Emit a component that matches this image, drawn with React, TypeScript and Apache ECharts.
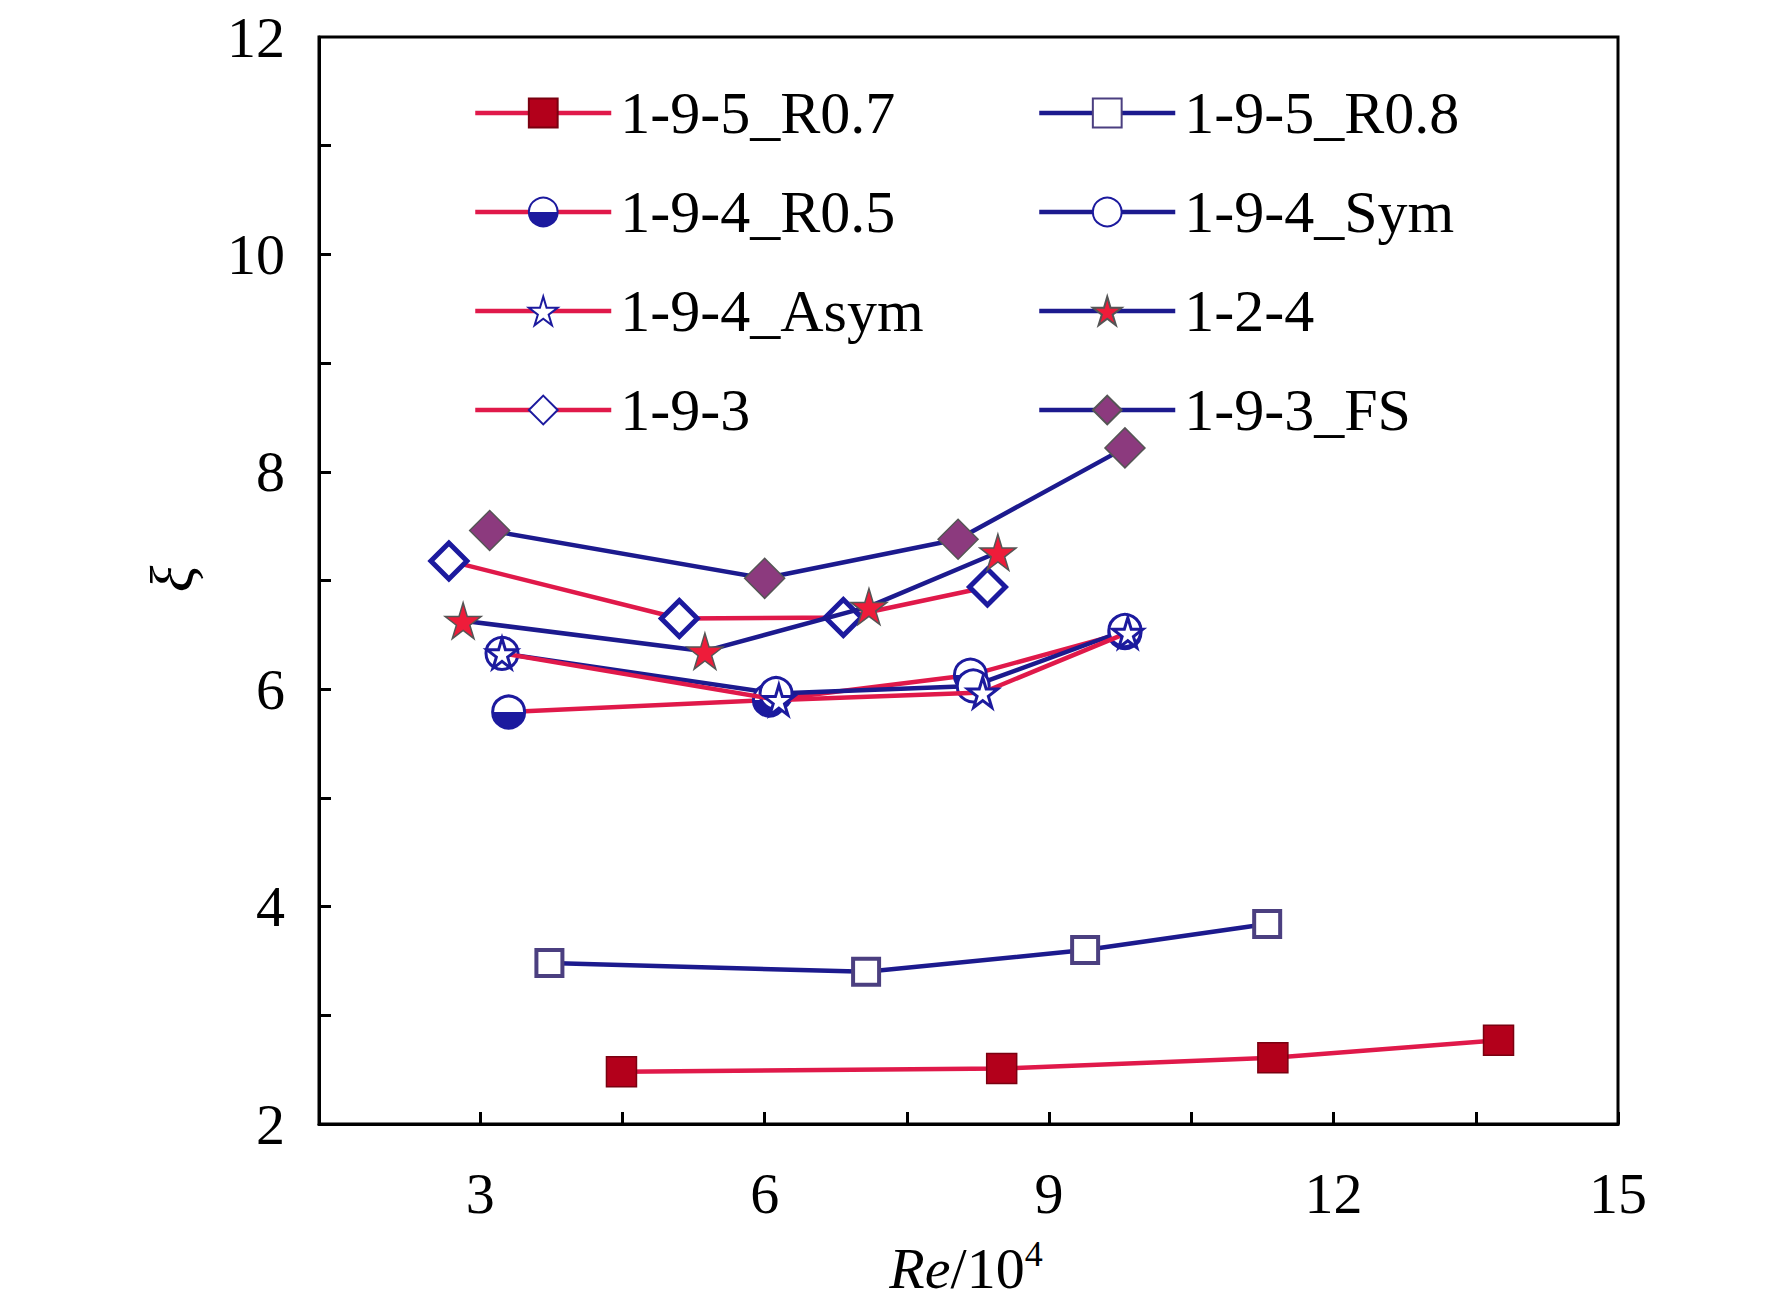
import React, { useEffect, useRef } from "react";
import * as echarts from "echarts";

const names = ["1-9-5_R0.7", "1-9-5_R0.8", "1-9-4_R0.5", "1-9-4_Sym", "1-9-4_Asym", "1-2-4", "1-9-3", "1-9-3_FS"];
const r07 = [[4.49, 2.48], [8.5, 2.51], [11.36, 2.61], [13.74, 2.77]];
const r08 = [[3.73, 3.48], [7.07, 3.4], [9.38, 3.6], [11.3, 3.84]];
const r05 = [[3.3, 5.79], [6.05, 5.9], [8.17, 6.13], [9.8, 6.52]];
const sym = [[3.23, 6.33], [6.12, 5.96], [8.2, 6.03], [9.8, 6.54]];
const asym = [[3.23, 6.33], [6.15, 5.9], [8.3, 5.97], [9.83, 6.52]];
const s124 = [[2.82, 6.63], [5.37, 6.35], [7.1, 6.76], [8.46, 7.26]];
const d193 = [[2.67, 7.18], [5.1, 6.65], [6.83, 6.66], [8.35, 6.94]];
const fs = [[3.1, 7.46], [6.0, 7.02], [8.04, 7.38], [9.8, 8.22]];
const xLabels = [3, 6, 9, 12, 15];
const xTicks = [3, 4.5, 6, 7.5, 9, 10.5, 12, 13.5, 15];
const yLabels = [2, 4, 6, 8, 10, 12];
const yTicks = [3, 4, 5, 6, 7, 8, 9, 10, 11];

const RED = "#e0194a";
const BLUE = "#1c1a8e";
const FONT = "Liberation Serif";

export default function App() {
  const ref = useRef<HTMLDivElement>(null);
  useEffect(() => {
    document.body.style.margin = "0";
    const chart = echarts.init(ref.current!, null, { renderer: "svg" });
    const halfFill = new echarts.graphic.LinearGradient(0, 0, 0, 1, [
      { offset: 0, color: "#ffffff" }, { offset: 0.5, color: "#ffffff" },
      { offset: 0.5, color: "#1c1a9e" }, { offset: 1, color: "#1c1a9e" },
    ]);
    const mk = (name: string, data: number[][], line: string, symbol: string, size: number, fill: any, border: string, bw: number, z = 2) => ({
      name, type: "line", data, symbol, symbolSize: size, z,
      lineStyle: { color: line, width: 4.5 },
      itemStyle: { color: fill, borderColor: border, borderWidth: bw },
    });
    const series = [
      mk(names[0], r07, RED, "rect", 30, "#b3001b", "#7a0010", 1.5),
      mk(names[1], r08, BLUE, "rect", 26, "#ffffff", "#4b3f80", 4),
      mk(names[2], r05, RED, "circle", 32, halfFill, "#1c1a9e", 3),
      mk(names[3], sym, BLUE, "circle", 32, "#ffffff", "#1c1a9e", 3),
      mk(names[4], asym, RED, "path://M50,0 L61,35 L98,35 L68,57 L79,91 L50,70 L21,91 L32,57 L2,35 L39,35 Z", 30, "#ffffff", "#1c1a9e", 3, 3),
      mk(names[5], s124, BLUE, "path://M50,0 L61,35 L98,35 L68,57 L79,91 L50,70 L21,91 L32,57 L2,35 L39,35 Z", 36, "#ee1c3a", "#555555", 1.5, 3),
      mk(names[6], d193, RED, "diamond", 36, "#ffffff", "#1c1a9e", 5),
      mk(names[7], fs, BLUE, "diamond", 40, "#8c3a7e", "#555555", 1.5),
    ];
    const legendCommon = {
      orient: "vertical", itemWidth: 136, itemHeight: 36, itemGap: 39,
      lineStyle: { width: 4.5 },
      textStyle: { fontFamily: FONT, fontSize: 60, color: "#000", padding: [0, 0, 0, 4] },
      top: 78,
    };
    chart.setOption({
      animation: false,
      backgroundColor: "#ffffff",
      grid: { left: 319, top: 37, width: 1299, height: 1087 },
      legend: [
        { ...legendCommon, left: 468, data: [names[0], names[2], names[4], names[6]] },
        { ...legendCommon, left: 1032, data: [names[1], names[3], names[5], names[7]] },
      ],
      xAxis: {
        type: "value", min: 1.3, max: 15,
        axisLine: { lineStyle: { color: "#000", width: 3 } },
        axisTick: { show: true, inside: true, length: 12, customValues: xTicks, lineStyle: { color: "#000", width: 3 } },
        axisLabel: { customValues: xLabels, fontFamily: FONT, fontSize: 58, color: "#000", margin: 40 },
        splitLine: { show: false },
      },
      yAxis: {
        type: "value", min: 2, max: 12,
        axisLine: { show: true, lineStyle: { color: "#000", width: 3 } },
        axisTick: { show: true, inside: true, length: 12, customValues: yTicks, lineStyle: { color: "#000", width: 3 } },
        axisLabel: { customValues: yLabels, fontFamily: FONT, fontSize: 58, color: "#000", margin: 34 },
        splitLine: { show: false },
      },
      graphic: [
        { type: "rect", shape: { x: 319, y: 37, width: 1299, height: 1087 }, style: { fill: "none", stroke: "#000", lineWidth: 3 }, silent: true, z: 0 },
        {
          type: "text", x: 966, y: 1268,
          style: {
            text: "{i|Re}{n|/10}{s|4}", align: "center", verticalAlign: "middle",
            rich: {
              i: { fontFamily: FONT, fontStyle: "italic", fontSize: 58, fill: "#000" },
              n: { fontFamily: FONT, fontSize: 58, fill: "#000" },
              s: { fontFamily: FONT, fontSize: 36, fill: "#000", verticalAlign: "top", padding: [0, 0, 28, 0] },
            },
          },
        },
        {
          type: "text", x: 172, y: 579, rotation: Math.PI / 2,
          style: { text: "ξ", fontFamily: FONT, fontStyle: "italic", fontSize: 62, fill: "#000", align: "center", verticalAlign: "middle" },
        },
      ],
      series,
    });
    return () => chart.dispose();
  }, []);
  return <div ref={ref} style={{ width: 1772, height: 1312 }} />;
}
